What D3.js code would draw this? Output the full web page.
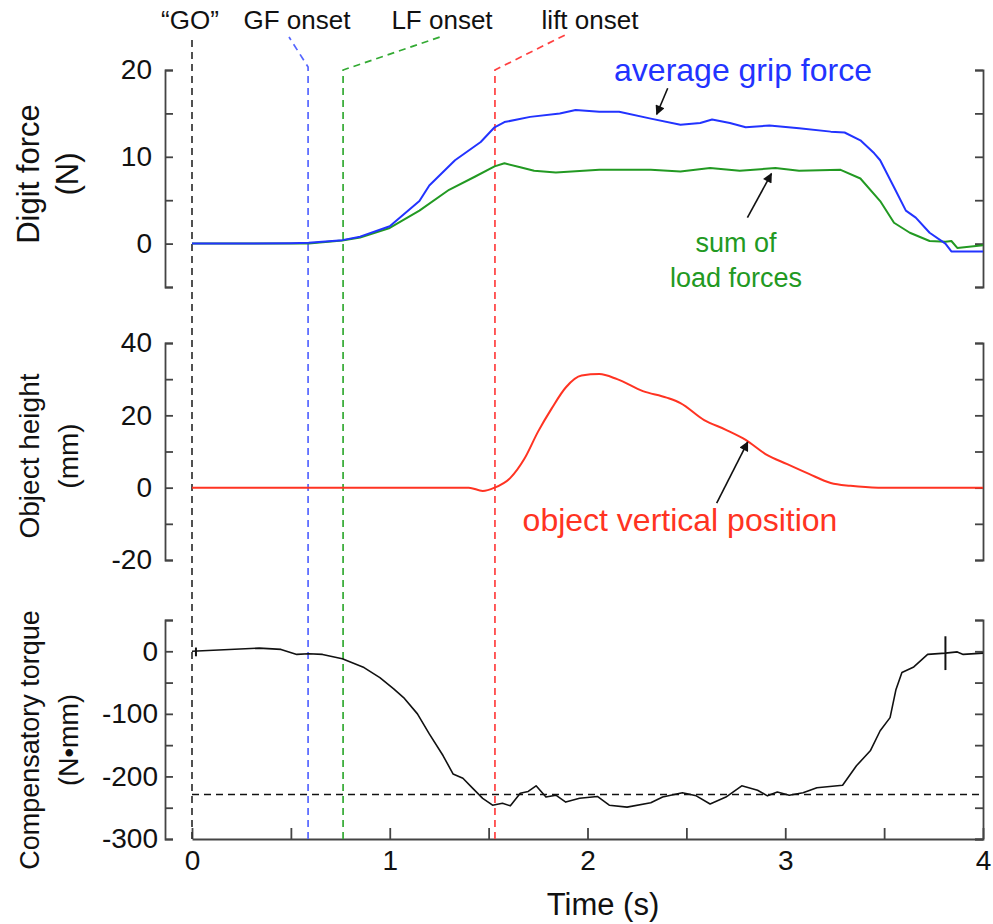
<!DOCTYPE html>
<html>
<head>
<meta charset="utf-8">
<script src="https://cdn.jsdelivr.net/npm/d3@7"></script>
<style>
  body { margin: 0; background: #fff; }
  svg { font-family: "Liberation Sans", Arial, sans-serif; }
</style>
</head>
<body>
<svg id="chart" width="993" height="924"></svg>
<script>
// onset events (s)
const eventNames = ["\u201cGO\u201d", "GF onset", "LF onset", "lift onset"];
const eventTimes = [0, 0.587, 0.764, 1.532];
const eventColors = ["#333333", "#5566ff", "#33aa33", "#ff4040"];

// average grip force (N)
const timeGrip = [0, 0.3, 0.5, 0.59, 0.76, 0.85, 1.0, 1.15, 1.2, 1.33, 1.46, 1.53, 1.58, 1.71, 1.86, 1.94, 2.06, 2.16, 2.32, 2.47, 2.57, 2.63, 2.72, 2.80, 2.92, 3.07, 3.23, 3.30, 3.38, 3.45, 3.48, 3.55, 3.61, 3.66, 3.73, 3.81, 3.84, 4.0];
const grip = [0, 0, 0.05, 0.1, 0.4, 0.8, 2.0, 4.9, 6.7, 9.6, 11.7, 13.4, 14.0, 14.6, 15.0, 15.4, 15.2, 15.2, 14.4, 13.7, 13.9, 14.3, 13.9, 13.4, 13.6, 13.3, 12.9, 12.8, 11.9, 10.4, 9.6, 6.5, 3.8, 3.0, 1.25, 0, -0.9, -0.9];

// sum of load forces (N)
const timeLoad = [0, 0.59, 0.76, 0.85, 1.0, 1.15, 1.30, 1.43, 1.53, 1.58, 1.66, 1.73, 1.84, 2.06, 2.32, 2.47, 2.62, 2.77, 2.95, 3.07, 3.28, 3.38, 3.48, 3.55, 3.63, 3.73, 3.81, 3.84, 3.87, 4.0];
const load = [0, 0, 0.35, 0.7, 1.8, 3.8, 6.2, 7.7, 8.9, 9.25, 8.8, 8.4, 8.2, 8.5, 8.5, 8.3, 8.7, 8.4, 8.7, 8.4, 8.5, 7.5, 4.9, 2.4, 1.25, 0.3, 0.2, 0.3, -0.5, -0.2];

// object vertical position (mm)
const timeHeight = [0, 1.40, 1.47, 1.53, 1.61, 1.68, 1.75, 1.82, 1.89, 1.97, 2.06, 2.15, 2.28, 2.40, 2.47, 2.59, 2.70, 2.80, 2.90, 3.01, 3.12, 3.23, 3.33, 3.47, 4.0];
const height = [0, 0, -0.9, 0, 2.7, 7.9, 15.5, 22, 27.7, 31, 31.4, 30, 26.7, 24.9, 23.4, 18.7, 16, 13.2, 9.3, 6.5, 3.8, 1.3, 0.5, 0, 0];

// compensatory torque (N.mm)
const timeTorque = [0, 0.34, 0.45, 0.53, 0.59, 0.66, 0.76, 0.87, 0.95, 1.02, 1.07, 1.14, 1.20, 1.27, 1.32, 1.37, 1.42, 1.47, 1.52, 1.57, 1.61, 1.66, 1.70, 1.74, 1.79, 1.84, 1.89, 1.96, 2.05, 2.11, 2.20, 2.32, 2.38, 2.48, 2.55, 2.62, 2.70, 2.78, 2.86, 2.91, 2.96, 3.02, 3.09, 3.16, 3.29, 3.36, 3.43, 3.48, 3.53, 3.56, 3.59, 3.65, 3.72, 3.81, 3.87, 3.90, 4.0];
const torque = [0, 5, 3, -5, -4, -5, -12, -26, -42, -60, -74, -100, -132, -167, -196, -203, -219, -235, -246, -243, -247, -227, -224, -215, -233, -230, -241, -235, -232, -246, -249, -242, -233, -226, -231, -244, -233, -215, -222, -231, -225, -230, -226, -218, -214, -183, -159, -127, -106, -61, -34, -25, -5, -3, -1, -5, -3];
const torqueTarget = -229;
// markers on torque trace: [time, low, high]
const torqueMarkers = [[0.02, -8, 6], [3.81, -30, 24]];

const timeTicks = [0, 0.5, 1, 1.5, 2, 2.5, 3, 3.5, 4];
const forceTicks = [-5, 0, 5, 10, 15, 20];
const heightTicks = [-20, -10, 0, 10, 20, 30, 40];
const torqueTicks = [-300, -250, -200, -150, -100, -50, 0, 50];

const svg = d3.select("#chart");
const axisColor = "#444";

const x = d3.scaleLinear().domain([0, 4]).range([192, 983]);
const yF = d3.scaleLinear().domain([-5, 20]).range([287, 70]);
const yH = d3.scaleLinear().domain([-20, 40]).range([560, 343]);
const yT = d3.scaleLinear().domain([-300, 50]).range([839, 620]);

function sideAxes(y, ticks, labelled, pad) {
  let left = svg.append("g")
    .attr("transform", "translate(165,0)")
    .call(d3.axisLeft(y).tickValues(ticks).tickSizeInner(-8).tickSizeOuter(-8)
      .tickPadding(pad).tickFormat(d => labelled.includes(d) ? d : ""));
  let right = svg.append("g")
    .attr("transform", "translate(983,0)")
    .call(d3.axisRight(y).tickValues(ticks).tickSizeInner(-8).tickSizeOuter(-8)
      .tickFormat(""));
  [left, right].forEach(g => {
    g.selectAll("path, line").attr("stroke", axisColor).attr("stroke-width", 1.8);
    g.selectAll("text").attr("font-size", 28).attr("fill", "#111")
      .attr("font-family", "Liberation Sans, Arial, sans-serif");
  });
}

sideAxes(yF, forceTicks, [0, 10, 20], 13);
sideAxes(yH, heightTicks, [-20, 0, 20, 40], 13);
sideAxes(yT, torqueTicks, [-300, -200, -100, 0], 7);

// time axis
let xg = svg.append("g")
  .attr("transform", "translate(0,839)")
  .call(d3.axisBottom(x).tickValues(timeTicks).tickSizeInner(-11).tickSizeOuter(0)
    .tickPadding(11).tickFormat(d => Number.isInteger(d) ? d : ""));
xg.selectAll("path, line").attr("stroke", axisColor).attr("stroke-width", 1.8);
xg.selectAll("text").attr("font-size", 28).attr("fill", "#111")
  .attr("font-family", "Liberation Sans, Arial, sans-serif");

svg.append("text").attr("x", 603).attr("y", 915).attr("text-anchor", "middle")
  .attr("font-size", 31).attr("fill", "#111").text("Time (s)");

// y titles: [line 1, line 2, centre y, font size]
const yTitles = [
  ["Digit force", "(N)", 174, 31],
  ["Object height", "(mm)", 456, 28],
  ["Compensatory torque", "(N\u2022mm)", 740, 27]
];
yTitles.forEach(t => {
  [t[0], t[1]].forEach((s, i) => {
    svg.append("text")
      .attr("transform", `translate(${i === 0 ? 39 : 78},${t[2]}) rotate(-90)`)
      .attr("text-anchor", "middle").attr("font-size", t[3]).attr("fill", "#111")
      .text(s);
  });
});

// event lines with their elbow to the labels
const labelX = [190, 297, 442, 590];
const elbowTop = [38, 67, 70, 70];
const elbowEnd = [[192, 38], [289, 37], [440, 37], [565, 35]];
eventTimes.forEach((t, i) => {
  let xv = x(t);
  let pts = [[xv, 839], [xv, elbowTop[i]], elbowEnd[i]];
  svg.append("path")
    .attr("d", d3.line()(pts))
    .attr("fill", "none").attr("stroke", eventColors[i])
    .attr("stroke-width", 1.7).attr("stroke-dasharray", "7,5");
  svg.append("text").attr("x", labelX[i]).attr("y", 29).attr("text-anchor", "middle")
    .attr("font-size", 26).attr("fill", "#111").text(eventNames[i]);
});

// torque target level
svg.append("line")
  .attr("x1", x(0)).attr("x2", x(4)).attr("y1", yT(torqueTarget)).attr("y2", yT(torqueTarget))
  .attr("stroke", "#111").attr("stroke-width", 1.6).attr("stroke-dasharray", "7,5");

function trace(ts, vs, y, color, w, curve) {
  let line = d3.line().x(d => x(d[0])).y(d => y(d[1])).curve(curve || d3.curveLinear);
  svg.append("path")
    .datum(ts.map((t, i) => [t, vs[i]]))
    .attr("d", line)
    .attr("fill", "none").attr("stroke", color).attr("stroke-width", w)
    .attr("stroke-linejoin", "round");
}

trace(timeLoad, load, yF, "#229922", 2);
trace(timeGrip, grip, yF, "#2233ff", 2);
trace(timeHeight, height, yH, "#ff3322", 2, d3.curveMonotoneX);
trace(timeTorque, torque, yT, "#111", 1.6);

torqueMarkers.forEach(m => {
  svg.append("line")
    .attr("x1", x(m[0])).attr("x2", x(m[0]))
    .attr("y1", yT(m[1])).attr("y2", yT(m[2]))
    .attr("stroke", "#111").attr("stroke-width", 2);
});

// annotations: head in data units, tail offset in px
svg.append("defs").append("marker")
  .attr("id", "head").attr("viewBox", "0 0 10 10").attr("refX", 9).attr("refY", 5)
  .attr("markerWidth", 7).attr("markerHeight", 6).attr("orient", "auto")
  .append("path").attr("d", "M0,0 L10,5 L0,10 z").attr("fill", "#111");

const notes = [
  { text: ["average grip force"], color: "#2233ff", size: 32, t: 2.35, v: 14.9, y: yF, dx: 11, dy: -26, tx: 743, ty: 81 },
  { text: ["sum of", "load forces"], color: "#229922", size: 27, t: 2.93, v: 8.06, y: yF, dx: -24, dy: 44, tx: 736, ty: 252 },
  { text: ["object vertical position"], color: "#ff3322", size: 32, t: 2.81, v: 12.6, y: yH, dx: -31, dy: 61, tx: 680, ty: 531 }
];
notes.forEach(n => {
  let hx = x(n.t), hy = n.y(n.v);
  svg.append("line")
    .attr("x1", hx + n.dx).attr("y1", hy + n.dy).attr("x2", hx).attr("y2", hy)
    .attr("stroke", "#111").attr("stroke-width", 1.6).attr("marker-end", "url(#head)");
  n.text.forEach((s, i) => {
    svg.append("text").attr("x", n.tx).attr("y", n.ty + i * 35)
      .attr("text-anchor", "middle").attr("font-size", n.size).attr("fill", n.color).text(s);
  });
});
</script>
</body>
</html>
